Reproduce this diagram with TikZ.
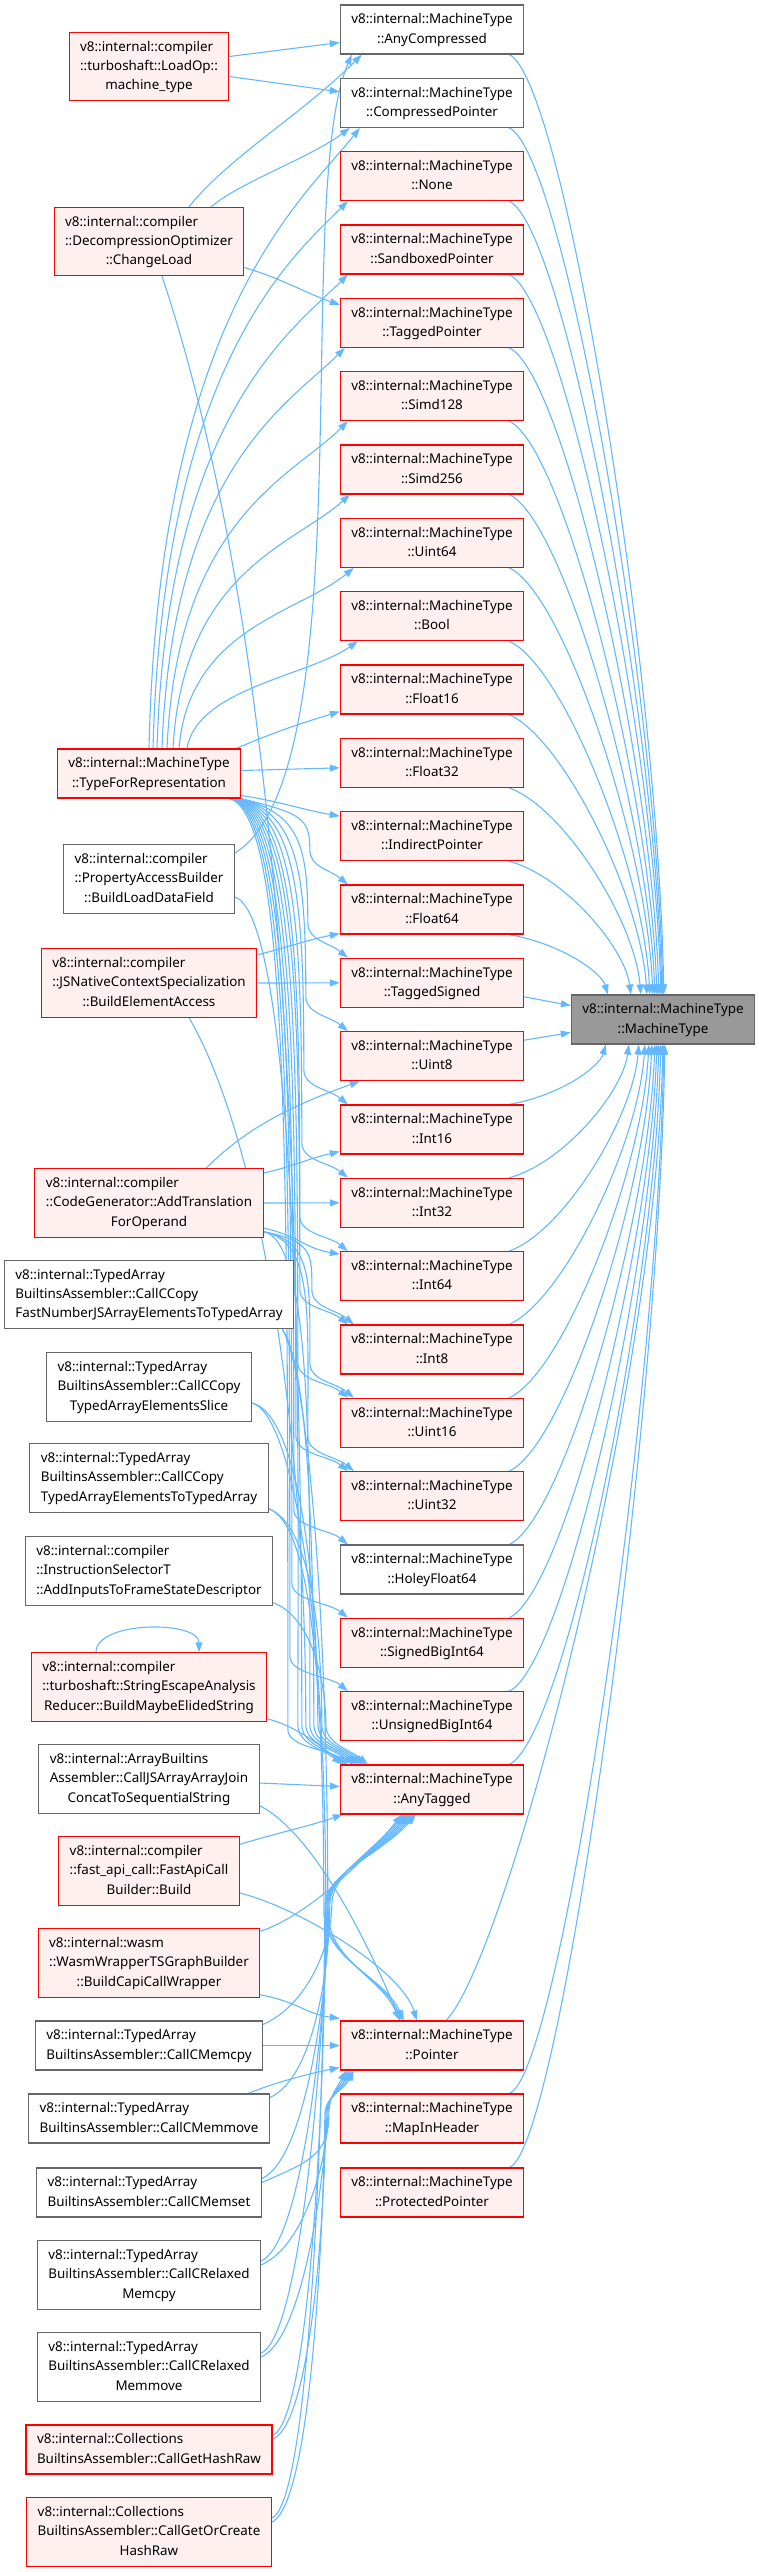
\documentclass[tikz,border=0pt]{standalone}
\usepackage{fontspec}
\newfontfamily\dxfont{Noto Sans}
\usetikzlibrary{arrows.meta,calc}
\pgfdeclarelayer{bg}
\pgfsetlayers{bg,main}
\definecolor{edgeblue}{HTML}{63B8FF}
\definecolor{fnfill}{HTML}{FFF0F0}
\definecolor{grey40}{HTML}{666666}
\definecolor{grey60}{HTML}{999999}
% all lines left-justified, the last one centred (as dot does with \l)
\newcommand{\dlab}[2]{\begin{tabular}{@{}l@{}}#1\\\multicolumn{1}{@{}c@{}}{#2}\end{tabular}}
\tikzset{
  box/.style={rectangle, line width=1.1pt, inner xsep=11pt, inner ysep=5.2pt,
    font=\dxfont\fontsize{13.4}{19.3}\selectfont},
  fnr/.style={box, draw=red, fill=fnfill},
  fnw/.style={box, draw=grey40, fill=white},
  root/.style={box, draw=grey40, fill=grey60},
  edge/.style={draw=edgeblue, line width=1.1pt, -{Triangle[length=10pt,width=7pt]}},
}
\begin{document}
\begin{tikzpicture}[x=1pt, y=-1pt]
  \useasboundingbox (0,0) rectangle (758,2572);

  %% ════ root ════
  \node[root] (ctor) at (663,1019.5) {\dlab{v8::internal::MachineType}{::MachineType}};

  %% ════ middle column (MachineType factories) ════
  \foreach \n/\bc/\fc [count=\i from 0] in {AnyCompressed/grey40/white, CompressedPointer/grey40/white,
      None/red/fnfill, SandboxedPointer/red/fnfill, TaggedPointer/red/fnfill, Simd128/red/fnfill,
      Simd256/red/fnfill, Uint64/red/fnfill, Bool/red/fnfill, Float16/red/fnfill, Float32/red/fnfill,
      IndirectPointer/red/fnfill, Float64/red/fnfill, TaggedSigned/red/fnfill, Uint8/red/fnfill,
      Int16/red/fnfill, Int32/red/fnfill, Int64/red/fnfill, Int8/red/fnfill, Uint16/red/fnfill,
      Uint32/red/fnfill, HoleyFloat64/grey40/white, SignedBigInt64/red/fnfill,
      UnsignedBigInt64/red/fnfill, AnyTagged/red/fnfill}
    \node[box, draw=\bc, fill=\fc] (\n) at (432, 29.5+73.333*\i) {\dlab{v8::internal::MachineType}{::\n}};
  \node[fnr] (Pointer) at (432,2045.5) {\dlab{v8::internal::MachineType}{::Pointer}};
  \node[fnr] (MapInHeader) at (432,2118.5) {\dlab{v8::internal::MachineType}{::MapInHeader}};
  \node[fnr] (ProtectedPointer) at (432,2192.5) {\dlab{v8::internal::MachineType}{::ProtectedPointer}};

  %% ════ left column (callers) ════
  \node[fnr] (loadop) at (149,66.5) {\dlab{v8::internal::compiler\\::turboshaft::LoadOp::}{machine\_type}};
  \node[fnr] (changeload) at (149,241.5) {\dlab{v8::internal::compiler\\::DecompressionOptimizer}{::ChangeLoad}};
  \node[fnr] (typefor) at (149,773.5) {\dlab{v8::internal::MachineType}{::TypeForRepresentation}};
  \node[fnw] (loaddata) at (149,879) {\dlab{v8::internal::compiler\\::PropertyAccessBuilder}{::BuildLoadDataField}};
  \node[fnr] (elemaccess) at (149,983) {\dlab{v8::internal::compiler\\::JSNativeContextSpecialization}{::BuildElementAccess}};
  \node[fnr] (addtrans) at (149,1203) {\dlab{v8::internal::compiler\\::CodeGenerator::AddTranslation}{ForOperand}};
  \node[fnw] (ccopyfast) at (149,1294.5) {\dlab{v8::internal::TypedArray\\BuiltinsAssembler::CallCCopy}{FastNumberJSArrayElementsToTypedArray}};
  \node[fnw] (ccopyslice) at (149,1387) {\dlab{v8::internal::TypedArray\\BuiltinsAssembler::CallCCopy}{TypedArrayElementsSlice}};
  \node[fnw] (ccopytyped) at (149,1478) {\dlab{v8::internal::TypedArray\\BuiltinsAssembler::CallCCopy}{TypedArrayElementsToTypedArray}};
  \node[fnw] (frameinputs) at (149,1571) {\dlab{v8::internal::compiler\\::InstructionSelectorT}{::AddInputsToFrameStateDescriptor}};
  \node[fnr] (elidedstr) at (149,1687) {\dlab{v8::internal::compiler\\::turboshaft::StringEscapeAnalysis}{Reducer::BuildMaybeElidedString}};
  \node[fnw] (joinconcat) at (149,1779) {\dlab{v8::internal::ArrayBuiltins\\Assembler::CallJSArrayArrayJoin}{ConcatToSequentialString}};
  \node[fnr] (fastapi) at (149,1871) {\dlab{v8::internal::compiler\\::fast\_api\_call::FastApiCall}{Builder::Build}};
  \node[fnr] (capiwrap) at (149,1963) {\dlab{v8::internal::wasm\\::WasmWrapperTSGraphBuilder}{::BuildCapiCallWrapper}};
  \node[fnw] (memcpy) at (149,2045.5) {\dlab{v8::internal::TypedArray}{BuiltinsAssembler::CallCMemcpy}};
  \node[fnw] (memmove) at (149,2118.5) {\dlab{v8::internal::TypedArray}{BuiltinsAssembler::CallCMemmove}};
  \node[fnw] (memset) at (149,2192.5) {\dlab{v8::internal::TypedArray}{BuiltinsAssembler::CallCMemset}};
  \node[fnw] (relaxcpy) at (149,2275) {\dlab{v8::internal::TypedArray\\BuiltinsAssembler::CallCRelaxed}{Memcpy}};
  \node[fnw] (relaxmove) at (149,2367) {\dlab{v8::internal::TypedArray\\BuiltinsAssembler::CallCRelaxed}{Memmove}};
  \node[fnr] (gethash) at (149,2449.5) {\dlab{v8::internal::Collections}{BuiltinsAssembler::CallGetHashRaw}};
  \node[fnr] (getcreate) at (149,2532) {\dlab{v8::internal::Collections\\BuiltinsAssembler::CallGetOrCreate}{HashRaw}};

  \begin{pgfonlayer}{bg}
  %% ════ middle -> root ════
  \foreach \n/\xo/\a/\c in {AnyCompressed/93/25/329, CompressedPointer/92/25/304, None/91/25/278,
      SandboxedPointer/90/25/252, TaggedPointer/88/25/227, Simd128/86/25/201, Simd256/84/25/175,
      Uint64/82/25/150, Bool/79/25/124, Float16/76/25/98, Float32/70/20/73, IndirectPointer/60/15/47,
      Float64/37/10/21}
    \draw[edge] ($(\n.south east)+(-15,0)$) .. controls +(55,\a) and +(-6,-\c) .. ($(ctor.north west)+(\xo,0)$);
  \foreach \n/\xo/\a/\c in {Int16/35/10/21, Int32/58/15/47, Int64/68/20/73, Int8/74/25/98,
      Uint16/78/25/124, Uint32/81/25/150, HoleyFloat64/84/25/175, SignedBigInt64/86/25/201,
      UnsignedBigInt64/88/25/227, AnyTagged/90/25/252}
    \draw[edge] ($(\n.north east)+(-15,0)$) .. controls +(55,-\a) and +(-6,\c) .. ($(ctor.south west)+(\xo,0)$);
  \draw[edge] ($(TaggedSigned.east)+(0,14)$) -- ($(ctor.west)+(0,-14)$);
  \draw[edge] ($(Uint8.east)+(0,-16)$) -- ($(ctor.west)+(0,13)$);
  \draw[edge] ($(Pointer.north)+(14,0)$) .. controls +(60,-60) and +(-6,342) .. ($(ctor.south west)+(92,0)$);
  \draw[edge] ($(MapInHeader.north east)+(-15,0)$) .. controls +(50,-15) and +(-6,367) .. ($(ctor.south west)+(93,0)$);
  \draw[edge] ($(ProtectedPointer.north east)+(-15,0)$) .. controls +(50,-15) and +(-6,393) .. ($(ctor.south west)+(94,0)$);

  %% ════ LoadOp / ChangeLoad ════
  \draw[edge] ($(loadop.east)+(0,-10)$) -- ($(AnyCompressed.west)+(0,13)$);
  \draw[edge] ($(loadop.east)+(0,10)$) -- ($(CompressedPointer.west)+(0,-11)$);
  \draw[edge] ($(changeload.north)+(40,0)$) .. controls +(40,-50) and +(-60,60) .. ($(AnyCompressed.south west)+(22,0)$);
  \draw[edge] ($(changeload.north)+(62,0)$) .. controls +(30,-25) and +(-40,30) .. ($(CompressedPointer.south west)+(10,0)$);
  \draw[edge] ($(changeload.east)+(0,26)$) .. controls +(40,12) and +(-35,-12) .. ($(TaggedPointer.west)+(0,-18)$);
  \draw[edge] ($(changeload.south)+(13,0)$) .. controls +(150,450) and +(0,-300) .. ($(AnyTagged.north west)+(-42,-40)$)
    .. controls +(0,20) and +(-18,-15) .. ($(AnyTagged.north west)+(2,0)$);

  %% ════ TypeForRepresentation ════
  \foreach \t/\s/\e/\ay/\bx/\by in {CompressedPointer/0/20/-435/-55/70, None/4/8/-384/-55/55,
      SandboxedPointer/8/8/-332/-55/55, TaggedPointer/13/5/-281/-55/55, Simd128/18/8/-230/-55/55,
      Simd256/24/10/-178/-55/50, Uint64/30/14/-120/-55/45, Bool/38/18/-60/-50/35}
    \draw[edge] ($(typefor.north)+(\s,0)$) .. controls +(10,\ay) and +(\bx,\by) .. ($(\t.south west)+(\e,0)$);
  \draw[edge] ($(typefor.north east)+(-5,0)$) .. controls +(35,-15) and +(-40,12) .. ($(Float16.south west)+(0,-3)$);
  \draw[edge] ($(typefor.east)+(0,-3)$) -- ($(Float32.west)+(0,5)$);
  \draw[edge] ($(typefor.south east)+(0,-3)$) .. controls +(35,5) and +(-35,-6) .. ($(IndirectPointer.west)+(0,-20)$);
  \foreach \t/\s/\bx/\c in {Float64/0/30/32, TaggedSigned/1/32/76, Uint8/2/34/120, Int16/3/36/164,
      Int32/4/38/208, Int64/5/40/252, Int8/6/40/296, Uint16/7/42/340, Uint32/8/44/384,
      HoleyFloat64/9/46/428, SignedBigInt64/10/48/472, UnsignedBigInt64/11/50/516, AnyTagged/12/52/560}
    \draw[edge] ($(typefor.south east)+(-\s,0)$) .. controls +(60,15) and +(0,-\c) .. ($(\t.north west)+(-\bx,-35)$)
      .. controls +(0,18) and +(-18,-15) .. ($(\t.north west)+(8,0)$);

  %% ════ BuildLoadDataField / BuildElementAccess ════
  \draw[edge] ($(loaddata.east)+(0,-26)$) .. controls +(130,-80) and +(-60,140) .. ($(AnyCompressed.south west)+(12,0)$);
  \draw[edge] ($(loaddata.east)+(0,18)$) .. controls +(60,20) and +(0,-300) .. ($(AnyTagged.north west)+(-38,-40)$)
    .. controls +(0,20) and +(-18,-15) .. ($(AnyTagged.north west)+(6,0)$);
  \draw[edge] ($(elemaccess.east)+(0,-28)$) .. controls +(30,-8) and +(-30,6) .. ($(Float64.west)+(0,24)$);
  \draw[edge] (elemaccess.east) -- (TaggedSigned.west);
  \draw[edge] ($(elemaccess.south)+(40,0)$) .. controls +(70,120) and +(0,-300) .. ($(AnyTagged.north west)+(-34,-40)$)
    .. controls +(0,20) and +(-18,-15) .. ($(AnyTagged.north west)+(13,0)$);

  %% ════ AddTranslationForOperand ════
  \draw[edge] ($(addtrans.north)+(57,0)$) .. controls +(40,-40) and +(-70,25) .. ($(Uint8.south west)+(20,0)$);
  \draw[edge] ($(addtrans.east)+(0,-30)$) .. controls +(35,-8) and +(-35,8) .. ($(Int16.west)+(0,22)$);
  \draw[edge] (addtrans.east) -- (Int32.west);
  \draw[edge] ($(addtrans.east)+(0,25)$) .. controls +(35,8) and +(-35,-6) .. ($(Int64.west)+(0,-22)$);
  \foreach \t/\bx/\c in {Int8/28/35, Uint16/30/80, Uint32/32/125}
    \draw[edge] ($(addtrans.south east)+(0,-6)$) .. controls +(50,10) and +(0,-\c) .. ($(\t.north west)+(-\bx,-35)$)
      .. controls +(0,18) and +(-18,-15) .. ($(\t.north west)+(14,0)$);
  \draw[edge] ($(addtrans.south east)+(0,-6)$) .. controls +(50,10) and +(0,-250) .. ($(AnyTagged.north west)+(-30,-40)$)
    .. controls +(0,20) and +(-18,-15) .. ($(AnyTagged.north west)+(16,0)$);

  %% ════ CallCCopy* / AddInputs / BuildMaybeElidedString ════
  \draw[edge] ($(ccopyfast.south east)+(-12,0)$) .. controls +(25,35) and +(0,-200) .. ($(AnyTagged.north west)+(-26,-40)$)
    .. controls +(0,20) and +(-18,-15) .. ($(AnyTagged.north west)+(19,0)$);
  \draw[edge] ($(ccopyslice.east)+(0,16)$) .. controls +(45,10) and +(0,-150) .. ($(AnyTagged.north west)+(-22,-40)$)
    .. controls +(0,20) and +(-18,-15) .. ($(AnyTagged.north west)+(22,0)$);
  \draw[edge] ($(ccopytyped.south east)+(0,-4)$) .. controls +(40,15) and +(0,-100) .. ($(AnyTagged.north west)+(-18,-40)$)
    .. controls +(0,20) and +(-18,-15) .. ($(AnyTagged.north west)+(25,0)$);
  \draw[edge] ($(frameinputs.south east)+(0,-3)$) .. controls +(40,15) and +(0,-40) .. ($(AnyTagged.north west)+(-14,-40)$)
    .. controls +(0,20) and +(-18,-15) .. ($(AnyTagged.north west)+(28,0)$);
  \draw[edge] ($(ccopyfast.south east)+(-12,0)$) .. controls +(25,40) and +(0,-300) .. ($(Pointer.north west)+(-12,-110)$)
    .. controls +(0,50) and +(-20,-45) .. ($(Pointer.north west)+(60,0)$);
  \draw[edge] ($(ccopyslice.east)+(0,16)$) .. controls +(40,10) and +(0,-300) .. ($(Pointer.north west)+(-14,-110)$)
    .. controls +(0,50) and +(-20,-45) .. ($(Pointer.north west)+(62,0)$);
  \draw[edge] ($(ccopytyped.south east)+(0,-4)$) .. controls +(40,15) and +(0,-250) .. ($(Pointer.north west)+(-16,-110)$)
    .. controls +(0,50) and +(-20,-45) .. ($(Pointer.north west)+(64,0)$);
  \draw[edge] ($(elidedstr.south east)+(0,-3)$) .. controls +(30,8) and +(-25,-20) .. ($(AnyTagged.north west)+(4,0)$);
  \draw[edge] ($(elidedstr.north)+(-53,0)$) .. controls +(0,-32) and +(0,-32) .. ($(elidedstr.north)+(50,0)$);

  %% ════ JoinConcat / FastApiCall / CapiCallWrapper / Memcpy / Memmove ════
  \draw[edge] ($(joinconcat.east)+(0,4)$) -- ($(AnyTagged.west)+(0,-3)$);
  \draw[edge] ($(joinconcat.south east)+(0,-8)$) .. controls +(60,30) and +(-20,-50) .. ($(Pointer.north west)+(60,0)$);
  \draw[edge] ($(fastapi.north east)+(0,8)$) .. controls +(40,-12) and +(-35,12) .. ($(AnyTagged.south west)+(3,0)$);
  \draw[edge] ($(fastapi.east)+(0,22)$) .. controls +(60,15) and +(-15,-50) .. ($(Pointer.north west)+(77,0)$);
  \draw[edge] ($(capiwrap.north east)+(0,3)$) .. controls +(45,-15) and +(-40,50) .. ($(AnyTagged.south west)+(62,0)$);
  \draw[edge] ($(capiwrap.south east)+(0,-3)$) .. controls +(40,8) and +(-35,-5) .. ($(Pointer.west)+(0,-27)$);
  \draw[edge] ($(memcpy.north east)+(0,4)$) .. controls +(45,-20) and +(0,40) .. ($(AnyTagged.south west)+(-8,90)$)
    .. controls +(0,-30) and +(-35,40) .. ($(AnyTagged.south west)+(64,0)$);
  \draw[edge] (memcpy.east) -- (Pointer.west);
  \draw[edge] ($(memmove.north east)+(0,4)$) .. controls +(45,-20) and +(0,60) .. ($(AnyTagged.south west)+(-10,90)$)
    .. controls +(0,-30) and +(-35,40) .. ($(AnyTagged.south west)+(66,0)$);
  \draw[edge] ($(memmove.north east)+(-22,0)$) .. controls +(30,-12) and +(-30,6) .. ($(Pointer.west)+(0,22)$);

  %% ════ Memset / CallCRelaxed* / Collections ════
  \foreach \src/\mx/\ka/\kp in {memset/-11/68/6, relaxcpy/-12/70/8, relaxmove/-13/72/10, gethash/-14/74/12, getcreate/-15/76/14}
  {
    \draw[edge] ($(\src.east)+(0,-14)$) .. controls +(45,-20) and +(0,80) .. ($(AnyTagged.south west)+(\mx,90)$)
      .. controls +(0,-30) and +(-35,40) .. ($(AnyTagged.south west)+(\ka,0)$);
    \draw[edge] ($(\src.east)+(0,-10)$) .. controls +(45,-20) and +(0,40) .. ($(Pointer.south west)+(\mx,45)$)
      .. controls +(0,-20) and +(-10,20) .. ($(Pointer.south west)+(\kp,0)$);
  }
  \end{pgfonlayer}
\end{tikzpicture}
\end{document}
